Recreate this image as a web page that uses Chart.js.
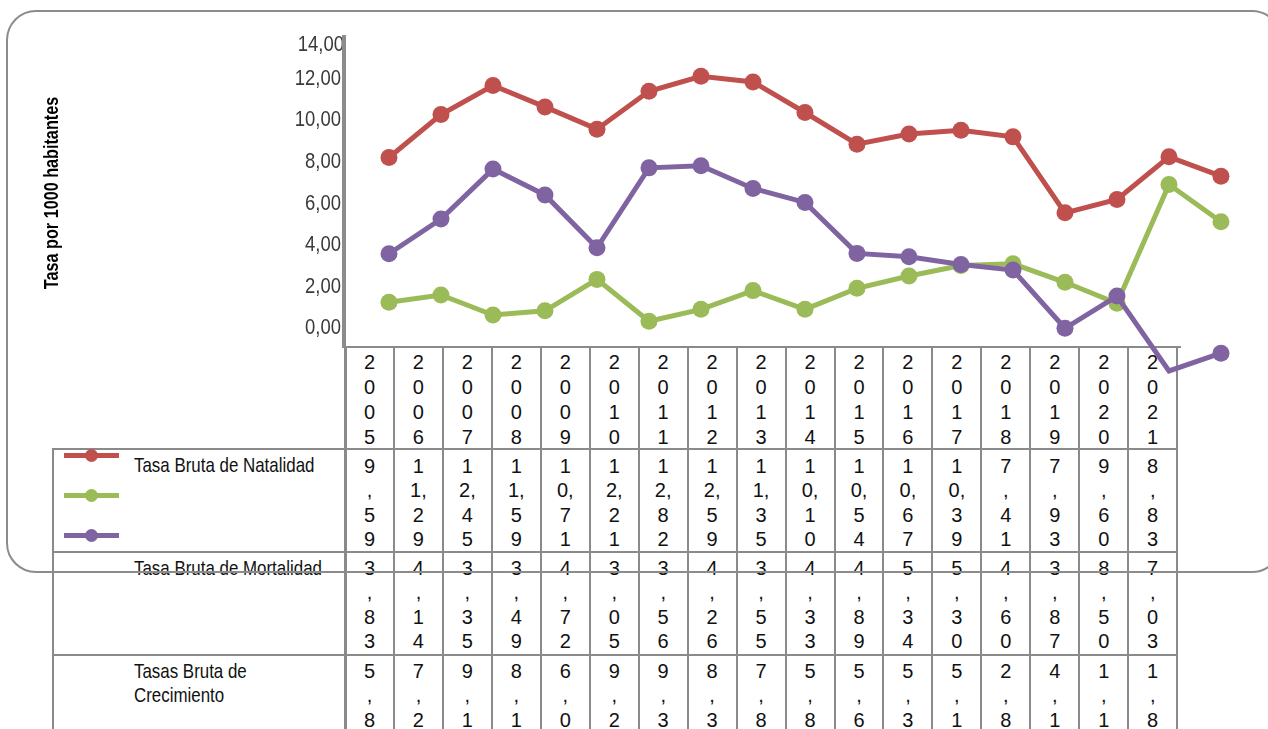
<!DOCTYPE html>
<html><head><meta charset="utf-8">
<script src="https://cdn.jsdelivr.net/npm/chart.js@4.4.0/dist/chart.umd.min.js"></script>
<style>
html,body{margin:0;padding:0;background:#fff;width:1268px;height:729px;overflow:hidden;}
#wrap{position:relative;width:1268px;height:729px;}
#tbl{position:absolute;left:0;top:0;width:1268px;height:729px;z-index:1;font-family:"Liberation Sans",Arial,sans-serif;color:#111;}
#frame{position:absolute;left:6px;top:10px;width:1276px;height:563px;border:2px solid #8c8c8c;border-radius:30px;box-sizing:border-box;z-index:2;}
#c{position:absolute;left:0;top:0;z-index:3;}
.ln{position:absolute;background:#8a8a8a;}
.cell{position:absolute;text-align:center;font-size:20px;}
.cell div{height:24.6px;line-height:24.6px;white-space:nowrap;}
.hcell div{height:25px;line-height:25px;}
.lab{position:absolute;font-size:21px;line-height:23.5px;transform:scaleX(0.805);transform-origin:0 0;width:250px;}
.mk{position:absolute;}
</style></head>
<body><div id="wrap"><div id="tbl"></div><div id="frame"></div><canvas id="c" width="1268" height="729"></canvas></div>
<script>
// ---------- data ----------
const years = ['2005','2006','2007','2008','2009','2010','2011','2012','2013','2014','2015','2016','2017','2018','2019','2020','2021'];
const seriesNames = ['Tasa Bruta de Natalidad','Tasa Bruta de Mortalidad','Tasas Bruta de Crecimiento'];
const seriesColors = ['#C0504D','#9BBB59','#8064A2'];
const yAxisTitle = 'Tasa por 1000 habitantes';
// values as plotted
const plotNatalidad   = [8.21,10.27,11.67,10.64,9.57,11.39,12.11,11.84,10.37,8.85,9.34,9.52,9.20,5.55,6.19,8.24,7.31];
const plotMortalidad  = [1.25,1.60,0.64,0.84,2.35,0.34,0.91,1.81,0.91,1.92,2.51,3.02,3.10,2.21,1.20,6.91,5.12];
const plotCrecimiento = [3.58,5.25,7.65,6.41,3.87,7.71,7.81,6.72,6.05,3.60,3.44,3.07,2.80,0.00,1.55,-2.05,-1.20];
// values as printed in the data table
const tableNatalidad   = [9.59,11.29,12.45,11.59,10.71,12.21,12.82,12.59,11.35,10.10,10.54,10.67,10.39,7.41,7.93,9.60,8.83];
const tableMortalidad  = [3.83,4.14,3.35,3.49,4.72,3.05,3.56,4.26,3.55,4.33,4.89,5.34,5.30,4.60,3.87,8.50,7.03];
const tableCrecimiento = [5.80,7.20,9.10,8.10,6.00,9.20,9.30,8.30,7.80,5.80,5.60,5.30,5.10,2.80,4.10,1.10,1.80];
const yTickValues = [0,2,4,6,8,10,12,14];

const fmt = v => v.toFixed(2).replace('.', ',');

// ---------- data table (HTML) ----------
const tbl = document.getElementById('tbl');
const colX0 = 345, colW = 48.95, nCols = years.length, labelX = 53;
const rowTops = [347, 448.5, 552, 655];
const tableEnd = colX0 + colW * nCols;
function line(x, y, w, h) {
  const d = document.createElement('div'); d.className = 'ln';
  d.style.left = x + 'px'; d.style.top = y + 'px'; d.style.width = w + 'px'; d.style.height = h + 'px';
  tbl.appendChild(d);
}
line(colX0, rowTops[0] - 1, tableEnd - colX0 + 4, 2);
for (let r = 1; r < rowTops.length; r++) line(labelX - 1, rowTops[r] - 1, tableEnd - labelX + 1, 2);
line(labelX - 1, rowTops[1] - 1, 2, 740 - rowTops[1]);
line(colX0 - 1.5, rowTops[0] - 1, 3, 740 - rowTops[0]);
for (let i = 1; i <= nCols; i++) line(colX0 + i * colW - 1, rowTops[0] - 1, 2, 740 - rowTops[0]);

function splitVal(v) {
  const out = [];
  for (const ch of fmt(v)) {
    if (ch === ',' && out.length > 1) out[out.length - 1] += ch; else out.push(ch);
  }
  return out;
}
function cell(i, top, linesArr, cls) {
  const d = document.createElement('div'); d.className = 'cell' + (cls ? ' ' + cls : '');
  d.style.left = (colX0 + i * colW) + 'px'; d.style.width = colW + 'px'; d.style.top = top + 'px';
  linesArr.forEach(t => { const l = document.createElement('div'); l.textContent = t; d.appendChild(l); });
  tbl.appendChild(d);
}
years.forEach((y, i) => cell(i, 349.5, y.split(''), 'hcell'));
tableNatalidad.forEach((v, i) => cell(i, 453.7, splitVal(v)));
tableMortalidad.forEach((v, i) => cell(i, 555.7, splitVal(v)));
tableCrecimiento.forEach((v, i) => cell(i, 658.7, splitVal(v)));

function label(text, top) {
  const d = document.createElement('div'); d.className = 'lab';
  d.style.left = '134px'; d.style.top = top + 'px'; d.textContent = text;
  tbl.appendChild(d);
}
label(seriesNames[0], 453.2);
label(seriesNames[1], 556);
label(seriesNames[2], 659);

// legend keys
const keyY = [455, 495, 535.5];
seriesColors.forEach((c, k) => {
  const l = document.createElement('div'); l.className = 'mk';
  l.style.cssText = `left:64px;top:${keyY[k]-2.5}px;width:55px;height:5px;background:${c};`;
  const p = document.createElement('div'); p.className = 'mk';
  p.style.cssText = `left:84.5px;top:${keyY[k]-6.5}px;width:13px;height:13px;border-radius:50%;background:${c};`;
  tbl.appendChild(l); tbl.appendChild(p);
});

// ---------- chart ----------
const toPts = vals => vals.map((v, i) => ({x: i, y: v}));
const fam = '"Liberation Sans", Arial, sans-serif';
const plotSeries = [plotNatalidad, plotMortalidad, plotCrecimiento];

// condensed y-axis labels and title, drawn under the axis line from the y scale
const condensedAxisText = {
  id: 'condensedAxisText',
  beforeDraw(chart) {
    const ctx = chart.ctx, s = chart.scales.y;
    ctx.save();
    ctx.fillStyle = '#3a3a3a';
    ctx.font = '22px ' + fam;
    ctx.textAlign = 'right'; ctx.textBaseline = 'middle';
    const last = yTickValues[yTickValues.length - 1];
    yTickValues.forEach(v => {
      let y = s.getPixelForValue(v), x = 341;
      if (v === last) { y += 8; x += 3; }
      ctx.save(); ctx.translate(x, y); ctx.scale(0.84, 1); ctx.fillText(fmt(v), 0, 0); ctx.restore();
    });
    ctx.fillStyle = '#000';
    ctx.font = 'bold 20px ' + fam;
    ctx.textAlign = 'center';
    ctx.translate(52, (s.top + s.bottom) / 2 + 1);
    ctx.rotate(-Math.PI / 2);
    ctx.scale(0.81, 1);
    ctx.fillText(yAxisTitle, 0, 0);
    ctx.restore();
  }
};

new Chart(document.getElementById('c'), {
  type: 'line',
  data: {
    datasets: plotSeries.map((vals, k) => ({
      label: seriesNames[k],
      data: toPts(vals),
      borderColor: seriesColors[k],
      backgroundColor: seriesColors[k],
      pointBackgroundColor: seriesColors[k],
      order: 3 - k,
      clip: false
    }))
  },
  plugins: [condensedAxisText],
  options: {
    responsive: false, animation: false, devicePixelRatio: 1,
    layout: {padding: {left: 36, top: 37, right: 18, bottom: 382}},
    plugins: {legend: {display: false}, tooltip: {enabled: false}},
    elements: {
      line: {borderWidth: 5, tension: 0},
      point: {radius: 8.5, borderWidth: 0, hoverRadius: 8.5}
    },
    scales: {
      x: {type: 'linear', display: false, min: -0.865, max: 16.558},
      y: {
        min: -0.9, max: 14,
        afterBuildTicks: s => { s.ticks = yTickValues.map(v => ({value: v})); },
        afterFit: s => { s.width = 308; },
        grid: {display: false, drawTicks: false},
        border: {display: true, color: '#8c8c8c', width: 4},
        ticks: {display: false},
        title: {display: false}
      }
    }
  }
});
</script>
</body></html>
